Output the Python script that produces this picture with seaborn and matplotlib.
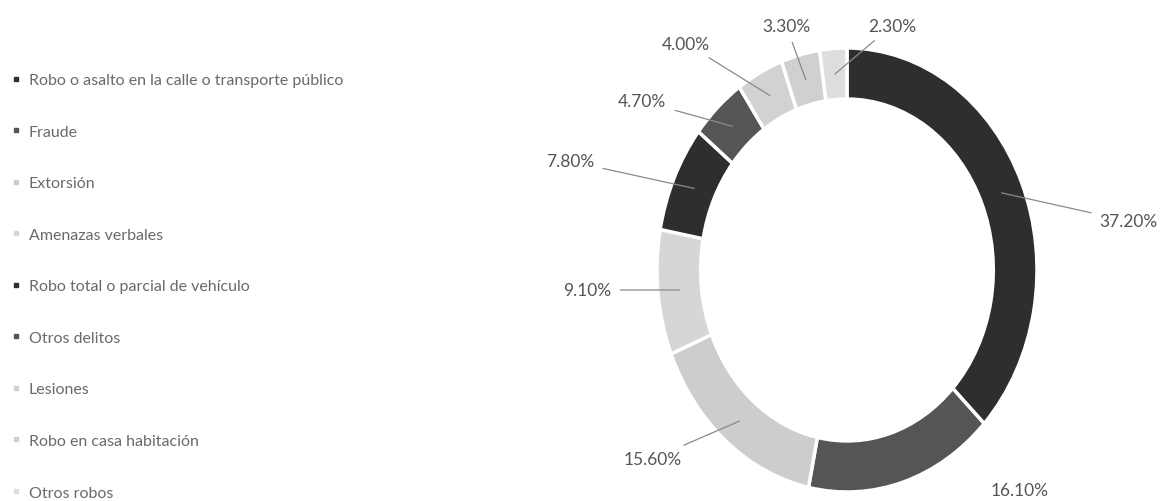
import numpy as np
import matplotlib
matplotlib.use("Agg")
import matplotlib.pyplot as plt
from matplotlib.lines import Line2D
import seaborn as sns

# datos (porcentaje de delitos)
categorias = [
    "Robo o asalto en la calle o transporte público",
    "Fraude",
    "Extorsión",
    "Amenazas verbales",
    "Robo total o parcial de vehículo",
    "Otros delitos",
    "Lesiones",
    "Robo en casa habitación",
    "Otros robos",
]
porcentajes = [37.2, 16.1, 15.6, 9.1, 7.8, 4.7, 4.0, 3.3, 2.3]
etiquetas = ["37.20%", "16.10%", "15.60%", "9.10%", "7.80%", "4.70%", "4.00%", "3.30%", "2.30%"]

colores = ["#2e2e2e", "#555555", "#cdcdcd", "#d6d6d6", "#2e2e2e", "#555555",
           "#d2d2d2", "#d0d0d0", "#dedede"]

# posicion de los textos (coordenadas del eje del anillo) y alineacion
pos_texto = [(1.33, 0.22), (0.91, -0.99), (-0.87, -0.85), (-1.24, -0.09),
             (-1.33, 0.49), (-0.95, 0.76), (-0.72, 1.02), (-0.32, 1.10), (0.11, 1.10)]
alineacion = ["left", "center", "right", "right", "right", "right", "right", "center", "left"]
con_linea = [True, False, True, True, True, True, True, True, True]

sns.set_theme(style="white")
plt.rcParams["font.family"] = ["Lato", "DejaVu Sans"]

fig = plt.figure(figsize=(11.76, 5.02), dpi=100)
W, H = 1176, 502
cx, cy = 847, 502 - 271
rx, ry = 190, 222
ax = fig.add_axes([(cx - rx * 1.3) / W, (cy - ry * 1.03) / H, rx * 2.6 / W, ry * 2.13 / H])

wedges, _ = ax.pie(porcentajes, colors=colores, startangle=90, counterclock=False,
                   radius=1.0, wedgeprops=dict(width=0.23, edgecolor="white", linewidth=2.5))
ax.set_aspect("auto")
ax.set_xlim(-1.3, 1.3)
ax.set_ylim(-1.03, 1.10)
ax.axis("off")

for w, lab, (tx, ty), ha, linea in zip(wedges, etiquetas, pos_texto, alineacion, con_linea):
    ang = np.deg2rad((w.theta1 + w.theta2) / 2)
    px, py = 0.885 * np.cos(ang), 0.885 * np.sin(ang)
    if linea:
        ax.annotate(lab, xy=(px, py), xytext=(tx, ty), ha=ha, va="center",
                    fontsize=12.5, color="#555555",
                    arrowprops=dict(arrowstyle="-", color="#8a8a8a", lw=0.9,
                                    shrinkA=4, shrinkB=0))
    else:
        ax.text(tx, ty, lab, ha=ha, va="center", fontsize=12.5, color="#555555")

handles = [Line2D([0], [0], marker="s", linestyle="none", markersize=3.5,
                  markerfacecolor=c, markeredgecolor=c) for c in colores]
fig.legend(handles, categorias, loc="upper left", bbox_to_anchor=(0.0, 0.875),
           frameon=False, fontsize=11.5, labelcolor="#6a6a6a",
           handlelength=0.6, handletextpad=0.5, labelspacing=2.34, borderaxespad=0.3)

fig.savefig("out.png", dpi=100, facecolor="white")
